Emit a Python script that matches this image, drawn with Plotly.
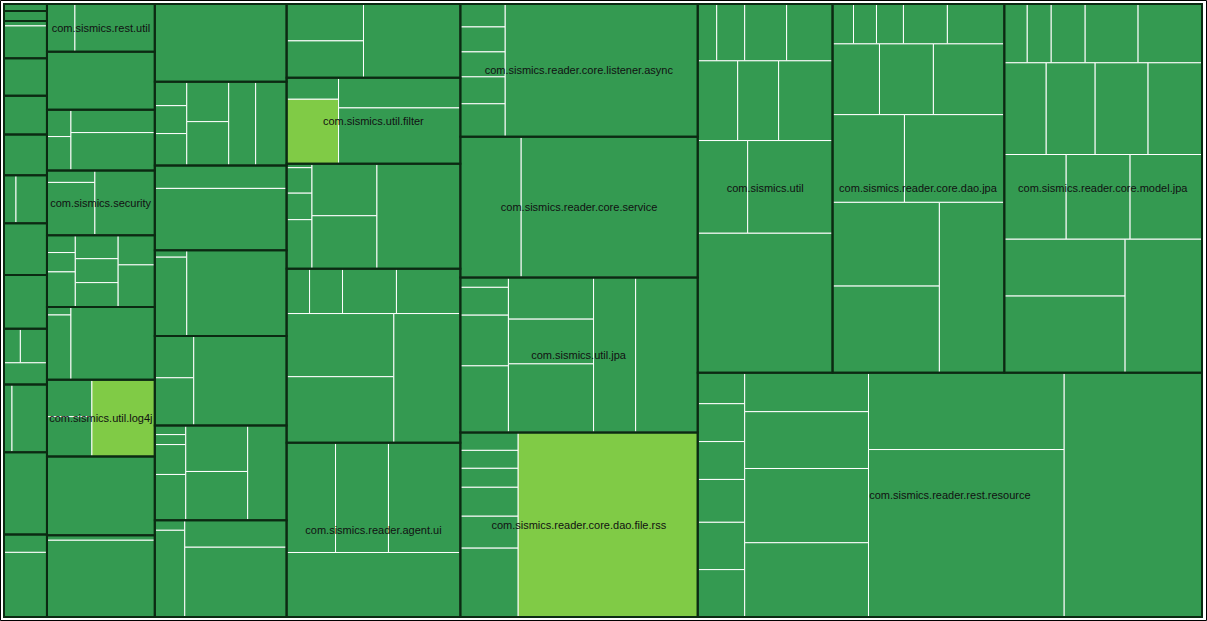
import plotly.graph_objects as go

# ---------------- data ----------------
package_ids = [f"p{i:02d}" for i in range(1, 43)]

package_labels = [
    "", "", "", "", "", "", "", "", "", "", "", "", "",
    "com.sismics.rest.util", "", "", "com.sismics.security", "", "",
    "com.sismics.util.log4j", "", "",
    "", "", "", "", "", "", "",
    "", "com.sismics.util.filter", "", "", "com.sismics.reader.agent.ui",
    "com.sismics.reader.core.listener.async", "com.sismics.reader.core.service",
    "com.sismics.util.jpa", "com.sismics.reader.core.dao.file.rss",
    "com.sismics.util", "com.sismics.reader.core.dao.jpa",
    "com.sismics.reader.core.model.jpa", "com.sismics.reader.rest.resource",
]

class_sizes = [
    [301], [430], [215, 1395], [1615], [1677], [1763], [576, 1488], [2236],
    [2322], [560, 910, 938], [544, 2380], [3550], [770, 2790],
    [1344, 3840], [6264], [648, 816, 1932, 3192], [576, 2544, 3900],
    [493, 551, 1000, 1010, 1030, 1050, 1090, 1552], [192, 1560, 6132],
    [1665, 1800, 4851], [8532], [540, 8316],
    [10296], [768, 896, 1024, 1680, 1848, 2268, 2604], [3036, 8184],
    [224, 2528, 8600], [1638, 1872, 8370],
    [279, 310, 930, 1426, 2852, 3038, 3705], [300, 2610, 2754, 7140],
    [2849, 2849, 7178], [1122, 3366, 3690, 6834],
    [100, 650, 675, 1250, 3392, 3456, 8795],
    [1035, 1485, 2430, 2880, 6804, 7128, 8638], [5390, 5830, 7920, 11260],
    [1035, 1125, 1125, 1215, 1485, 25669], [8601, 24957],
    [480, 1344, 2448, 3216, 3570, 3825, 5865, 6552, 9672],
    [1044, 1044, 1102, 1682, 1856, 4002, 33300],
    [1083, 1596, 2394, 2622, 3200, 3280, 4320, 4650, 7905, 18900],
    [840, 920, 1080, 1760, 2280, 3337, 3834, 5041, 6336, 8800, 8988, 9309, 11115],
    [1357, 1416, 2006, 3127, 3776, 3864, 4508, 4876, 4968, 5270, 5440, 6120,
     6897, 9317, 10318],
    [1457, 1786, 1786, 2021, 2230, 2235, 4836, 7068, 9238, 9238, 15092,
     32928, 33810],
]

# (package index, class index) of the light-green classes
light_classes = [(19, 2), (30, 1), (37, 6)]

GREEN = "#349a51"
LIGHT = "#80cb46"
DARK = "#0b2a12"
FONT = "Arial, 'Liberation Sans', sans-serif"

# ---------------- build hierarchy ----------------
ROOT = "root"
ids_a, labels_a, parents_a, values_a = [ROOT], [""], [""], [0]
colors_a, lw_a = [DARK], [0]
for i, pid in enumerate(package_ids):
    ids_a.append(pid); labels_a.append(pid); parents_a.append(ROOT)
    values_a.append(0); colors_a.append(DARK); lw_a.append(0)
    for j, v in enumerate(class_sizes[i]):
        ids_a.append(f"{pid}/c{j + 1}"); labels_a.append(f"{pid}/c{j + 1}")
        parents_a.append(pid); values_a.append(v)
        colors_a.append(LIGHT if (i, j) in light_classes else GREEN)
        lw_a.append(1)

ids_b = [ROOT] + package_ids
parents_b = [""] + [ROOT] * len(package_ids)
values_b = [0] + [sum(c) for c in class_sizes]
text_b = [""] + package_labels

tiling = dict(packing="squarify", squarifyratio=1.618034, pad=0)
pad0 = dict(t=0, l=0, r=0, b=0)

fig = go.Figure()
fig.add_trace(go.Treemap(
    ids=ids_a, labels=labels_a, parents=parents_a, values=values_a,
    branchvalues="remainder", sort=False, tiling=tiling,
    marker=dict(colors=colors_a, line=dict(color="white", width=lw_a),
                pad=pad0, depthfade=False),
    textinfo="none", hoverinfo="skip",
    pathbar=dict(visible=False),
))
fig.add_trace(go.Treemap(
    ids=ids_b, labels=ids_b, parents=parents_b, values=values_b,
    branchvalues="remainder", sort=False, tiling=tiling,
    marker=dict(colors=["rgba(0,0,0,0)"] * len(ids_b),
                line=dict(color=DARK, width=[0] + [2] * len(package_ids)),
                pad=pad0, depthfade=False),
    text=text_b, texttemplate="%{text}", textposition="middle center",
    textfont=dict(family=FONT, size=11, color="#111111"),
    hoverinfo="skip", pathbar=dict(visible=False),
))

W, H = 1207, 621
ml, mr, mt, mb = 4, 5, 4, 4
pw, ph = W - ml - mr, H - mt - mb
fig.add_shape(type="rect", xref="paper", yref="paper",
              x0=(0.5 - ml) / pw, x1=(W - 0.5 - ml) / pw,
              y0=(ph + mt - (H - 0.5)) / ph, y1=(ph + mt - 0.5) / ph,
              line=dict(color="black", width=1), fillcolor="rgba(0,0,0,0)")

fig.update_layout(
    width=W, height=H,
    margin=dict(l=ml, r=mr, t=mt, b=mb),
    paper_bgcolor="white", plot_bgcolor="white",
    uniformtext=dict(minsize=11, mode="show"),
    showlegend=False,
)
fig.write_html("out.html")
